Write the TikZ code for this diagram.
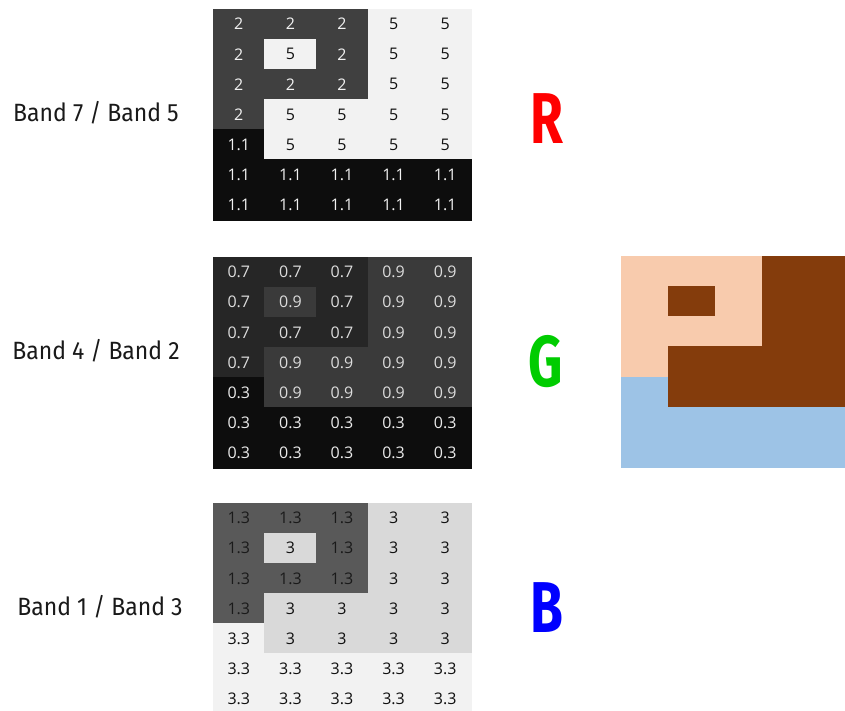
\documentclass[tikz,border=0pt]{standalone}
\usepackage{fontspec}
\setmainfont{Fira Sans}
\newfontfamily\numfont{Open Sans}
\newfontfamily\labfont{Fira Sans}
\usepackage{graphicx}

% band-ratio grids: class A / B / C per cell
\definecolor{gaA}{HTML}{404040}\definecolor{gaAt}{HTML}{F2F2F2}
\definecolor{gaB}{HTML}{F2F2F2}\definecolor{gaBt}{HTML}{111111}
\definecolor{gaC}{HTML}{0D0D0D}\definecolor{gaCt}{HTML}{F2F2F2}
\definecolor{gbA}{HTML}{262626}\definecolor{gbAt}{HTML}{DCDCDC}
\definecolor{gbB}{HTML}{3A3A3A}\definecolor{gbBt}{HTML}{DCDCDC}
\definecolor{gbC}{HTML}{0D0D0D}\definecolor{gbCt}{HTML}{EAEAEA}
\definecolor{gcA}{HTML}{595959}\definecolor{gcAt}{HTML}{1A1A1A}
\definecolor{gcB}{HTML}{D9D9D9}\definecolor{gcBt}{HTML}{111111}
\definecolor{gcC}{HTML}{F2F2F2}\definecolor{gcCt}{HTML}{111111}
% composite image
\definecolor{imA}{HTML}{F8CBAD}
\definecolor{imB}{HTML}{843C0C}
\definecolor{imC}{HTML}{9DC3E6}
\definecolor{chR}{HTML}{FF0000}
\definecolor{chG}{HTML}{00CC00}
\definecolor{chB}{HTML}{0000FF}

\def\gaAval{2}\def\gaBval{5}\def\gaCval{1.1}
\def\gbAval{0.7}\def\gbBval{0.9}\def\gbCval{0.3}
\def\gcAval{1.3}\def\gcBval{3}\def\gcCval{3.3}

\def\cellpattern{{A,A,A,B,B},{A,B,A,B,B},{A,A,A,B,B},{A,B,B,B,B},{C,B,B,B,B},{C,C,C,C,C},{C,C,C,C,C}}

\tikzset{
  cellbox/.style={anchor=north west, inner sep=0pt, outer sep=0pt,
    minimum width=51.6pt, minimum height=30.14pt, line width=0.5pt,
    font=\numfont\fontsize{16}{18}\selectfont},
  pixbox/.style={anchor=north west, inner sep=0pt, outer sep=0pt,
    minimum width=47.2pt, minimum height=30.2pt, line width=0.5pt},
  bandlabel/.style={font=\labfont\fontsize{25}{28}\selectfont, text=black!90},
  chanlabel/.style={font=\labfont\bfseries\fontsize{72}{76}\selectfont}
}

\newcommand\bandgrid[2]{%
  \foreach \row [count=\r from 0] in \cellpattern {
    \foreach \cls [count=\c from 0] in \row {
      \node[cellbox, fill=#1\cls, draw=#1\cls, text=#1\cls t]
        (#1-\r-\c) at ({213+51.6*\c}, {#2+30.14*\r})
        {\csname #1\cls val\endcsname};
    }
  }%
}

\begin{document}
\begin{tikzpicture}[x=1pt,y=-1pt]
\useasboundingbox (0,0) rectangle (845,711);
\clip (0,0) rectangle (845,711);

% three ratio grids
\bandgrid{ga}{9}
\bandgrid{gb}{257}
\bandgrid{gc}{503}

% composite colour image
\foreach \row [count=\r from 0] in \cellpattern {
  \foreach \cls [count=\c from 0] in \row {
    \node[pixbox, fill=im\cls, draw=im\cls] (im-\r-\c) at ({621+47.2*\c}, {256+30.2*\r}) {};
  }
}

% ratio labels
\node[bandlabel] (lab75) at (96,113) {\scalebox{0.92}[1]{Band 7 / Band 5}};
\node[bandlabel] (lab42) at (96,351) {\scalebox{0.92}[1]{Band 4 / Band 2}};
\node[bandlabel] (lab13) at (100,607) {\scalebox{0.92}[1]{Band 1 / Band 3}};

% channel letters
\node[chanlabel, text=chR] (chanR) at (547,119) {\scalebox{0.74}[1]{R}};
\node[chanlabel, text=chG] (chanG) at (546,362) {\scalebox{0.74}[1]{G}};
\node[chanlabel, text=chB] (chanB) at (547,608) {\scalebox{0.74}[1]{B}};
\end{tikzpicture}
\end{document}
